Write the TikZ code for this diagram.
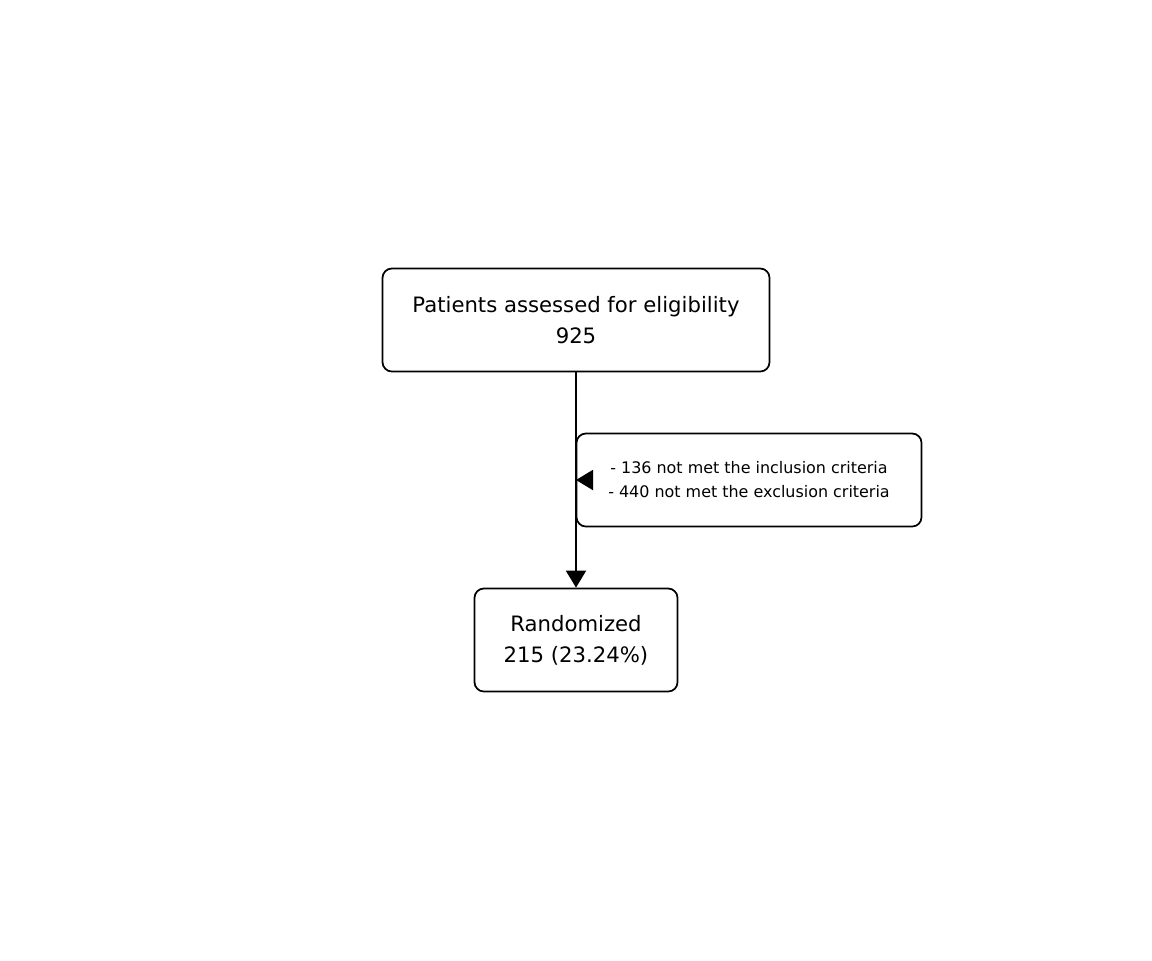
\documentclass[tikz,border=0pt]{standalone}
\usepackage{fontspec}
\setmainfont{DejaVu Sans}
\usetikzlibrary{arrows.meta}
\def\hspacing{0.75pt}
\def\vspacing{-0.75pt}
\def\bigtext{\fontsize{15.9}{23.2}\selectfont}
\def\smalltext{\fontsize{11.95}{18}\selectfont}
\tikzset{
    flowbox/.style={draw, line width=1.3pt, rounded corners=7pt, align=center, inner sep=0pt},
    flowarrow/.style={line width=1.5pt, -{Triangle[width=15pt, length=12.75pt]}}
}
\newcommand{\stage}[7][\bigtext]{
    \node[flowbox, font=#1, minimum width=#5*\hspacing, minimum height=#6*\hspacing]
    (#2) at (#3,#4) {#7};
}

\begin{document}
\begin{tikzpicture}[x=\hspacing, y=\vspacing]
    \useasboundingbox (0,0) rectangle (1152,960);
    \stage{assess}{576}{320}{387}{103}{Patients assessed for eligibility\\925}
    \stage[\smalltext]{excl}{749}{480}{345}{93}{- 136 not met the inclusion criteria\\- 440 not met the exclusion criteria}
    \stage{rand}{576}{640}{203}{103}{Randomized\\215 (23.24\%)}
    \coordinate (split) at (assess.south |- excl.west);
    \draw[flowarrow] (assess.south) -- (rand.north);
    \draw[flowarrow] ([xshift=10pt]excl.west) -- (split);
\end{tikzpicture}
\end{document}
